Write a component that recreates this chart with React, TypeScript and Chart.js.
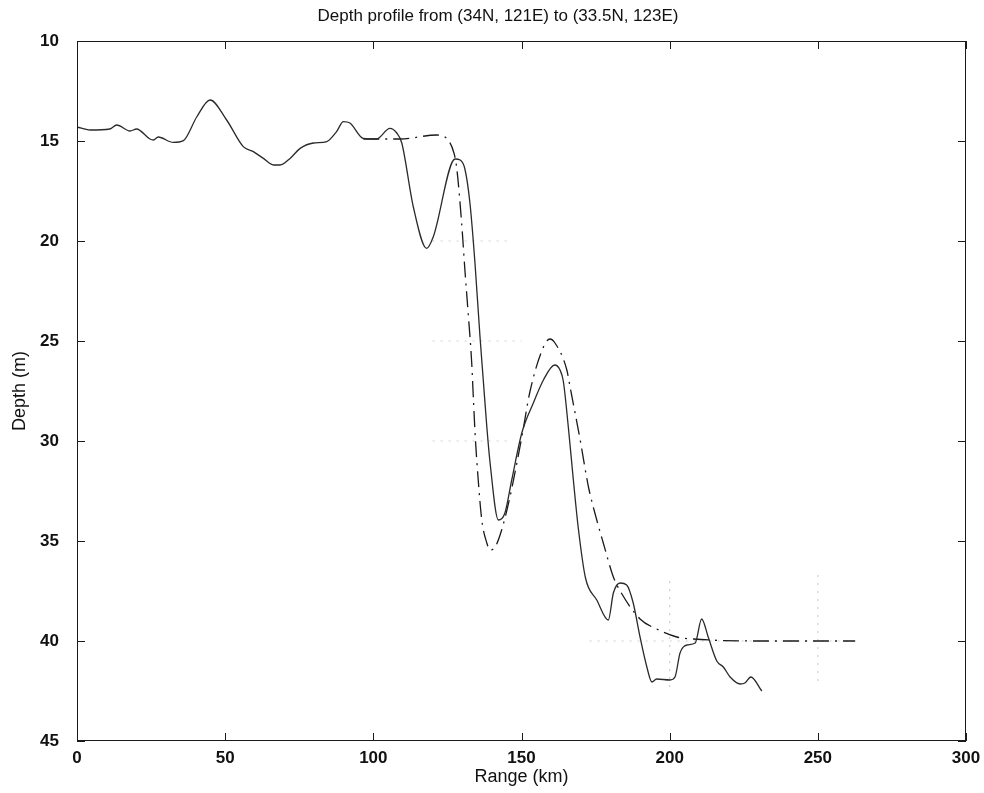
import React, { useEffect, useRef } from "react";
import { Chart, registerables } from "chart.js";

Chart.register(...registerables);

// Measured bathymetry (solid line)
const bathyRangeKm = [
  0, 4.4, 11.1, 13.4, 17.9, 20.1, 24.6, 25.8, 27.4, 32.5, 35.9, 40.4, 44.9, 50.5,
  56.1, 59.5, 62.9, 66.3, 68.5, 71.9, 75.3, 79.8, 84.3, 87.6, 89.9, 92.1, 96.6,
  101.1, 105.6, 107.9, 109.6, 113.5, 118, 120.2, 127.6, 129.3, 130.9, 132.6, 134.3,
  136, 137.1, 138.3, 139.4, 142.2, 144.4, 146.7, 150.1, 154, 157.4, 161.2, 163,
  164.1, 165.8, 167.5, 169.2, 171.6, 175.4, 179.3, 181, 183.3, 185.5, 187.7, 190,
  192.3, 194, 195.6, 200.1, 201.8, 203.5, 205.8, 208.6, 210.8, 213, 215.9, 218.1,
  220.4, 223.8, 225.4, 227.4, 231.1,
];
const bathyDepthM = [
  14.3, 14.45, 14.4, 14.2, 14.5, 14.4, 14.9, 14.95, 14.8, 15.07, 14.98, 13.8, 12.95, 13.95,
  15.28, 15.53, 15.87, 16.2, 16.2, 15.87, 15.37, 15.1, 15.03, 14.53, 14.03, 14.1, 14.87,
  14.9, 14.37, 14.6, 15.1, 18.3, 20.37, 19.8, 15.9, 15.95, 16.4, 18.1, 21.1,
  24.8, 26.95, 29.3, 31.1, 33.95, 33.6, 31.95, 29.6, 28.1, 26.95, 26.2, 26.45,
  27.0, 29.3, 31.95, 34.4, 36.85, 37.95, 38.95, 37.6, 37.1, 37.2, 38.1, 39.8,
  41.3, 42.05, 41.9, 41.95, 41.8, 40.6, 40.2, 40.1, 38.9, 39.8, 41.0, 41.3,
  41.8, 42.15, 42.1, 41.8, 42.5,
];

// Model / smoothed profile (dash-dot line)
const modelRangeKm = [
  96.6, 109, 121.4, 125.5, 127.2, 128.1, 129.8, 130.9, 132, 133.2, 133.8, 134.4,
  135.4, 136.6, 138.3, 139.4, 141.1, 143.3, 146.1, 150.1, 152.9, 157.4, 159.6,
  161.3, 165.3, 166.4, 169.8, 172.6, 175.4, 177.6, 181, 183.3, 190, 195.6, 202.4,
  208, 230, 262.6,
];
const modelDepthM = [
  14.9, 14.9, 14.7, 15.0, 15.6, 16.3, 19.1, 21.45, 23.6, 26.1, 28.0, 29.8,
  31.95, 33.95, 35.1, 35.45, 35.3, 34.45, 32.8, 29.8, 27.5, 25.3, 24.9,
  25.1, 26.45, 27.3, 29.95, 32.3, 33.95, 35.1, 36.8, 37.5, 38.9, 39.4, 39.8,
  39.9, 40.0, 40.0,
];

// Faint dotted reference marks
const faintH20Km = [120, 147];
const faintH20M = [20, 20];
const faintH25Km = [120, 150];
const faintH25M = [25, 25];
const faintH30Km = [120, 147];
const faintH30M = [30, 30];
const faintH40Km = [173, 262];
const faintH40M = [40, 40];
const faintV200Km = [200, 200];
const faintV200M = [37, 42.3];
const faintV250Km = [250, 250];
const faintV250M = [36.7, 42.3];

const xTicks = [0, 50, 100, 150, 200, 250, 300];
const yTicks = [10, 15, 20, 25, 30, 35, 40, 45];

const titleText = "Depth profile from (34N, 121E) to (33.5N, 123E)";

const toPoints = (xs: number[], ys: number[]) => xs.map((x, i) => ({ x, y: ys[i] }));

const FONT = "'Liberation Sans', Arial, Helvetica, sans-serif";

const boxPlugin = {
  id: "matlabBox",
  afterDraw(chart: any) {
    const { ctx, chartArea: a, scales } = chart;
    ctx.save();
    ctx.strokeStyle = "#1a1a1a";
    ctx.lineWidth = 1;
    ctx.strokeRect(a.left + 0.5, a.top + 0.5, a.right - a.left - 1, a.bottom - a.top - 1);
    const L = 8;
    ctx.beginPath();
    xTicks.forEach((v) => {
      const px = Math.round(scales.x.getPixelForValue(v)) + 0.5;
      ctx.moveTo(px, a.bottom);
      ctx.lineTo(px, a.bottom - L);
      ctx.moveTo(px, a.top);
      ctx.lineTo(px, a.top + L);
    });
    yTicks.forEach((v) => {
      const py = Math.round(scales.y.getPixelForValue(v)) + 0.5;
      ctx.moveTo(a.left, py);
      ctx.lineTo(a.left + L, py);
      ctx.moveTo(a.right, py);
      ctx.lineTo(a.right - L, py);
    });
    ctx.stroke();
    // Title
    ctx.fillStyle = "#111";
    ctx.font = `normal 17px ${FONT}`;
    ctx.textAlign = "center";
    ctx.textBaseline = "middle";
    ctx.fillText(titleText, 498, 16);
    ctx.restore();
  },
};

function faint(label: string, xs: number[], ys: number[]) {
  return {
    label,
    data: toPoints(xs, ys),
    borderColor: "#cfcfcf",
    borderWidth: 1.2,
    borderDash: [2, 6],
    pointRadius: 0,
    tension: 0,
  };
}

export default function App() {
  const ref = useRef<HTMLCanvasElement | null>(null);
  useEffect(() => {
    if (!ref.current) return;
    Chart.defaults.font.family = FONT;
    const chart = new Chart(ref.current, {
      type: "line",
      data: {
        datasets: [
          {
            label: "Bathymetry",
            data: toPoints(bathyRangeKm, bathyDepthM),
            borderColor: "#2a2a2a",
            borderWidth: 1.3,
            pointRadius: 0,
            cubicInterpolationMode: "monotone",
          },
          {
            label: "Model",
            data: toPoints(modelRangeKm, modelDepthM),
            borderColor: "#1a1a1a",
            borderWidth: 1.3,
            borderDash: [16, 6, 2, 6],
            pointRadius: 0,
            cubicInterpolationMode: "monotone",
          },
          faint("h20", faintH20Km, faintH20M),
          faint("h25", faintH25Km, faintH25M),
          faint("h30", faintH30Km, faintH30M),
          faint("h40", faintH40Km, faintH40M),
          faint("v200", faintV200Km, faintV200M),
          faint("v250", faintV250Km, faintV250M),
        ] as any,
      },
      options: {
        animation: false,
        responsive: false,
        maintainAspectRatio: false,
        layout: { padding: { left: 0, right: 18, top: 41, bottom: 0 } },
        plugins: {
          legend: { display: false },
          tooltip: { enabled: false },
          title: { display: false },
        },
        scales: {
          x: {
            type: "linear",
            min: 0,
            max: 300,
            grid: { display: false, drawTicks: false },
            border: { display: false },
            afterFit: (s: any) => {
              s.height = 52;
              s.paddingLeft = 0;
              s.paddingRight = 0;
            },
            afterBuildTicks: (s: any) => {
              s.ticks = xTicks.map((v) => ({ value: v }));
            },
            ticks: {
              color: "#111",
              font: { size: 17, weight: "bold", family: FONT },
              padding: 7,
              maxRotation: 0,
            },
            title: {
              display: true,
              text: "Range (km)",
              color: "#111",
              font: { size: 18, weight: "normal", family: FONT },
              padding: { top: 0, bottom: 4.7 },
            },
          },
          y: {
            type: "linear",
            reverse: true,
            min: 10,
            max: 45,
            grid: { display: false, drawTicks: false },
            border: { display: false },
            afterFit: (s: any) => {
              s.width = 77;
              s.paddingTop = 0;
              s.paddingBottom = 0;
            },
            afterBuildTicks: (s: any) => {
              s.ticks = yTicks.map((v) => ({ value: v }));
            },
            ticks: {
              color: "#111",
              font: { size: 17, weight: "bold", family: FONT },
              padding: 18,
            },
            title: {
              display: true,
              text: "Depth (m)",
              color: "#111",
              font: { size: 18, weight: "normal", family: FONT },
              padding: { top: 9.2, bottom: 0 },
            },
          },
        },
      } as any,
      plugins: [boxPlugin],
    });
    return () => chart.destroy();
  }, []);
  return (
    <div style={{ position: "absolute", left: 0, top: 0, width: 984, height: 793, background: "#fff" }}>
      <canvas ref={ref} width={984} height={793} style={{ display: "block" }} />
    </div>
  );
}
